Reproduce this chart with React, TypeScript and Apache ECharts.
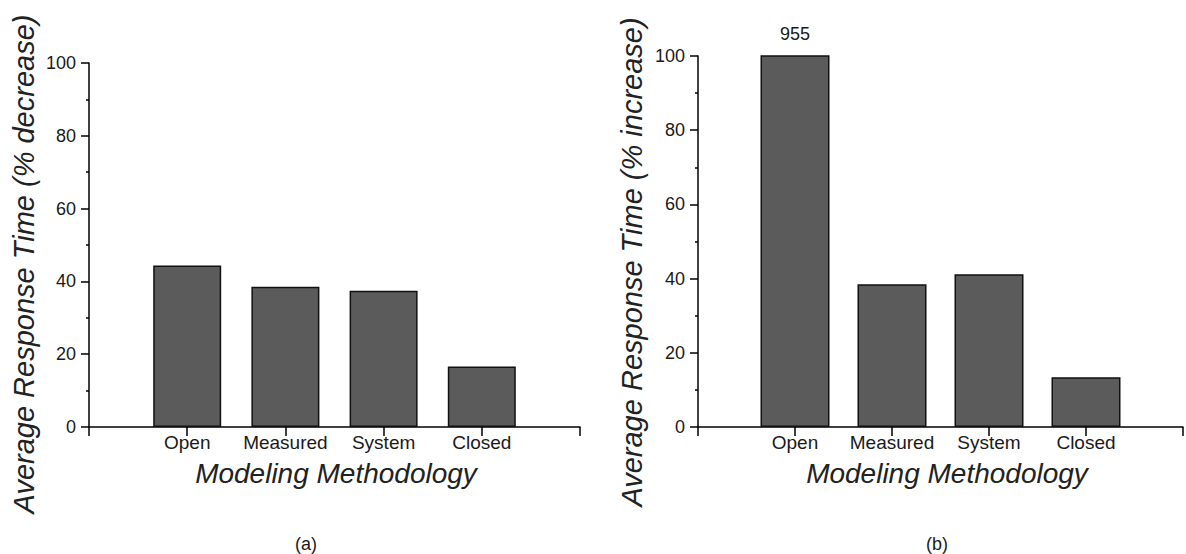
import React, { useEffect, useRef } from "react";
import * as echarts from "echarts";

const categories = ["Open", "Measured", "System", "Closed"];
const decreaseValues = [44.4, 38.5, 37.4, 16.6];
const increaseValues = [955, 38.5, 41.2, 13.4];
const yTitleA = "Average Response Time (% decrease)";
const yTitleB = "Average Response Time (% increase)";
const xTitle = "Modeling Methodology";
const captions = ["(a)", "(b)"];

const FONT = '"Liberation Sans", Arial, "DejaVu Sans", sans-serif';
const TEXT = "#1a1a1a";

function makeX(gridIndex: number) {
  return {
    type: "value",
    gridIndex,
    min: 0,
    max: 5,
    interval: 1,
    axisLine: { show: true, onZero: false, lineStyle: { color: "#000", width: 1.5 } },
    axisTick: { show: true, length: 9, lineStyle: { color: "#000", width: 1.5 } },
    axisLabel: {
      fontSize: 19,
      fontFamily: FONT,
      color: TEXT,
      margin: 6,
      formatter: (v: number) => categories[v - 1] ?? "",
    },
    splitLine: { show: false },
  };
}

function makeY(gridIndex: number) {
  return {
    type: "value",
    gridIndex,
    min: 0,
    max: 100,
    interval: 20,
    axisLine: { show: true, onZero: false, lineStyle: { color: "#000", width: 1.5 } },
    axisTick: { show: true, length: 8, lineStyle: { color: "#000", width: 1.5 } },
    minorTick: { show: true, splitNumber: 2, length: 3, lineStyle: { color: "#000", width: 1.5 } },
    axisLabel: { fontSize: 18, fontFamily: FONT, color: TEXT, margin: 13 },
    splitLine: { show: false },
    minorSplitLine: { show: false },
  };
}

const barStyle = { color: "#5b5b5b", borderColor: "#111", borderWidth: 1.5 };

function titleText(text: string, x: number, y: number, size: number, rotated: boolean) {
  return {
    type: "text",
    x,
    y,
    rotation: rotated ? Math.PI / 2 : 0,
    style: {
      text,
      fontSize: size,
      fontStyle: "italic",
      fontFamily: FONT,
      fill: "#222",
      align: "center",
      verticalAlign: "middle",
    },
  };
}

export default function App() {
  const ref = useRef<HTMLDivElement>(null);
  useEffect(() => {
    if (!ref.current) return;
    const chart = echarts.init(ref.current, undefined, { renderer: "svg" });
    const dataA = categories.map((c, k) => [k + 1, decreaseValues[k]]);
    const dataB = categories.map((c, k) =>
      k === 0
        ? {
            value: [k + 1, increaseValues[k]],
            label: {
              show: true,
              position: "top",
              distance: 12,
              fontSize: 18,
              fontFamily: FONT,
              color: TEXT,
              formatter: (p: any) => String(p.value[1]),
            },
          }
        : [k + 1, increaseValues[k]]
    );
    chart.setOption({
      animation: false,
      backgroundColor: "#fff",
      grid: [
        { left: 89, top: 63, width: 491, height: 364 },
        { left: 698, top: 56, width: 495, height: 371 },
      ],
      xAxis: [makeX(0), makeX(1)],
      yAxis: [makeY(0), makeY(1)],
      series: [
        {
          type: "bar",
          xAxisIndex: 0,
          yAxisIndex: 0,
          barWidth: 68,
          clip: true,
          itemStyle: barStyle,
          data: dataA,
        },
        {
          type: "bar",
          xAxisIndex: 1,
          yAxisIndex: 1,
          barWidth: 69,
          clip: true,
          itemStyle: barStyle,
          data: dataB,
        },
      ],
      graphic: [
        titleText(yTitleA, 24, 264, 29, true),
        titleText(yTitleB, 632, 262, 29, true),
        titleText(xTitle, 336, 473, 28, false),
        titleText(xTitle, 947, 473, 28, false),
        {
          type: "text",
          x: 306,
          y: 544,
          style: { text: captions[0], fontSize: 18, fontFamily: FONT, fill: TEXT, align: "center", verticalAlign: "middle" },
        },
        {
          type: "text",
          x: 937,
          y: 544,
          style: { text: captions[1], fontSize: 18, fontFamily: FONT, fill: TEXT, align: "center", verticalAlign: "middle" },
        },
      ],
    });
    return () => chart.dispose();
  }, []);
  return (
    <div
      ref={ref}
      style={{ position: "fixed", left: 0, top: 0, width: 1186, height: 554, background: "#fff" }}
    />
  );
}
